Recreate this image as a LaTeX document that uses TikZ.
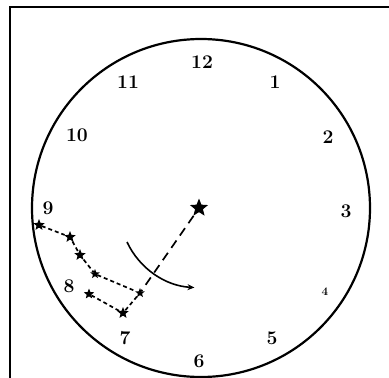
\documentclass[tikz,border=0pt]{standalone}
\usepackage{tikz}
\usetikzlibrary{arrows.meta,positioning,shapes.geometric}

\tikzset{
  hour/.style={font={\bfseries\fontsize{22}{22}\selectfont}, inner sep=0pt, scale=0.88, transform shape},
  spot/.style={star, star points=5, star point ratio=2.3, fill=black, draw=none, inner sep=0pt, minimum size=12pt},
  trail/.style={line width=1.7pt, dash pattern=on 4pt off 3pt},
}

\begin{document}
\begin{tikzpicture}[x=1pt, y=-1pt]
    \useasboundingbox (0,0) rectangle (389,378);
    \fill[white] (0,0) rectangle (389,378);
    \draw[line width=1.3pt] (10,378) -- (10,7) -- (389,7);

    % dial
    \draw[line width=2.2pt] (201,208) circle (169);

    % hour numbers
    \node[hour] (h12) at (202,62) {12};
    \node[hour] (h1) at (275,82) {1};
    \node[hour] (h2) at (328,137) {2};
    \node[hour] (h3) at (346,211) {3};
    \node[hour, scale=0.6] (h4) at (325,292) {4};
    \node[hour] (h5) at (272,338) {5};
    \node[hour] (h6) at (199,361) {6};
    \node[hour] (h7) at (125,338) {7};
    \node[hour] (h8) at (69,286) {8};
    \node[hour] (h9) at (48,208) {9};
    \node[hour] (h10) at (77,135) {10};
    \node[hour] (h11) at (128,82) {11};

    % stars
    \node[spot, minimum size=19pt] (ctr) at (199,208) {};
    \node[spot] (p1) at (39,225) {};
    \node[spot] (p2) at (70,237) {};
    \node[spot] (p3) at (80,255) {};
    \node[spot, minimum size=10pt] (p4) at (95,274) {};
    \node[spot, minimum size=10pt] (p5) at (140,293) {};
    \node[spot] (p6) at (123,313) {};
    \node[spot, minimum size=11pt] (p7) at (89,294) {};

    \draw[trail] (p1) -- (p2) -- (p3) -- (p4) -- (p5) -- (p6) -- (p7);
    \draw[line width=1.7pt, dash pattern=on 9pt off 6pt] (ctr) -- (p5);

    % sweep
    \coordinate (sw) at (127,242);
    \draw[line width=1.6pt, -{Stealth[length=7pt,width=6pt]}] (sw) arc[start angle=155, end angle=93, radius=79];
\end{tikzpicture}
\end{document}
